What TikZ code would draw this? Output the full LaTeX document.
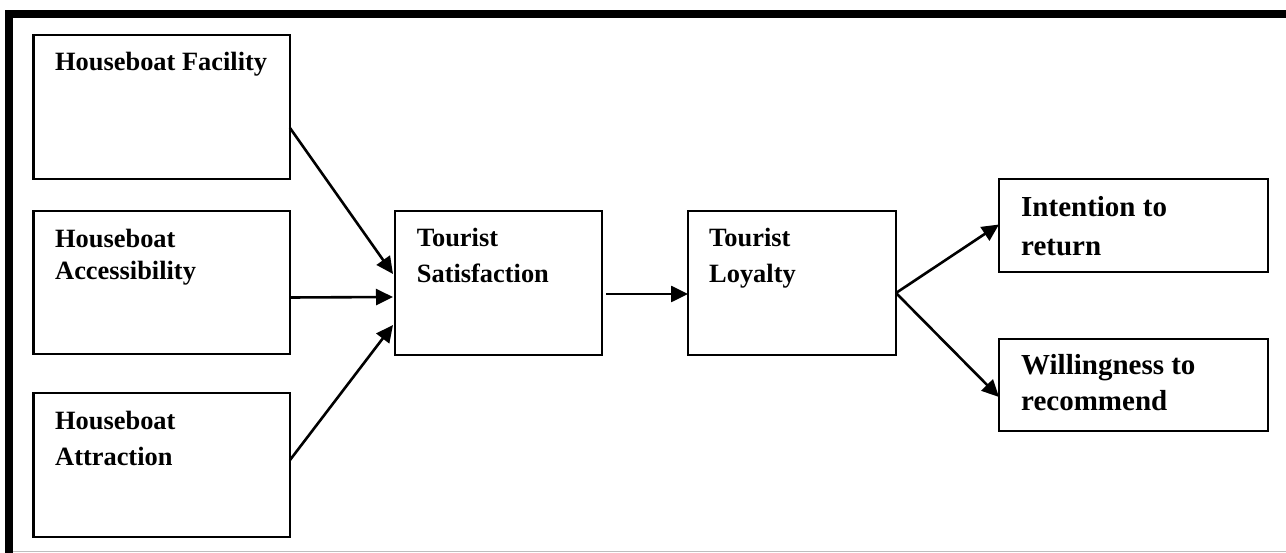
\documentclass[tikz,border=0pt]{standalone}
\usepackage{fontspec}
\setmainfont{Liberation Serif}
\usetikzlibrary{arrows.meta}
\begin{document}
\begin{tikzpicture}[x=1pt,y=-1pt,
  box/.style={draw=black, line width=2.4pt, fill=none, inner sep=0pt, outer sep=0pt, anchor=north west},
  lbl/.style={inner sep=0pt, anchor=base west, font=\fontsize{26.4}{30}\selectfont\bfseries},
  lblbig/.style={inner sep=0pt, anchor=base west, font=\fontsize{29}{33}\selectfont\bfseries},
  conn/.style={line width=2.6pt, -{Triangle[length=17pt,width=16pt]}}]
\useasboundingbox (0,0) rectangle (1286,553);
% frame
\fill[black] (5,10) rectangle (1286,18);
\fill[black] (5,10) rectangle (13,553);
\draw[line width=1pt, draw={rgb,255:red,190;green,190;blue,190}] (13,551.5) -- (1286,551.5);
% boxes
\node[box, minimum width=256.5pt, minimum height=144pt] (fac) at (33.5,35) {};
\node[box, minimum width=256.5pt, minimum height=143pt] (acc) at (33.5,211) {};
\node[box, minimum width=256.5pt, minimum height=144pt] (att) at (33.5,393) {};
\node[box, minimum width=207pt, minimum height=144pt] (sat) at (395,211) {};
\node[box, minimum width=208pt, minimum height=144pt] (loy) at (688,211) {};
\node[box, minimum width=269pt, minimum height=93pt] (int) at (999,179) {};
\node[box, minimum width=269pt, minimum height=92pt] (wil) at (999,339) {};
% texts
\node[lbl] (t1) at (55,70.7) {Houseboat Facility};
\node[lbl] (t2a) at (55,247.7) {Houseboat};
\node[lbl] (t2b) at (55,280) {Accessibility};
\node[lbl] (t3a) at (55,429) {Houseboat};
\node[lbl] (t3b) at (55,465) {Attraction};
\node[lbl] (t4a) at (416.7,246.7) {Tourist};
\node[lbl] (t4b) at (416.7,283) {Satisfaction};
\node[lbl] (t5a) at (709,246.7) {Tourist};
\node[lbl] (t5b) at (709,282.7) {Loyalty};
\node[lblbig] (t6a) at (1021,217) {Intention to};
\node[lblbig] (t6b) at (1021,256) {return};
\node[lblbig] (t7a) at (1021,375) {Willingness to};
\node[lblbig] (t7b) at (1021,410) {recommend};
% connectors
\draw[conn] ([yshift=-21pt]fac.east) -- ([xshift=-2pt,yshift=9pt]sat.west);
\draw[conn] ([yshift=-15pt]acc.east) -- ([xshift=-2pt,yshift=-14pt]sat.west);
\draw[conn] ([yshift=5pt]att.east) -- ([xshift=-2pt,yshift=-42pt]sat.west);
\draw[conn] ([xshift=4pt,yshift=-11pt]sat.east) -- ([yshift=-11pt]loy.west);
\draw[conn] ([yshift=-10pt]loy.east) -- ([yshift=1pt]int.west);
\draw[conn] ([yshift=-10pt]loy.east) -- ([yshift=-12pt]wil.west);
\end{tikzpicture}
\end{document}
